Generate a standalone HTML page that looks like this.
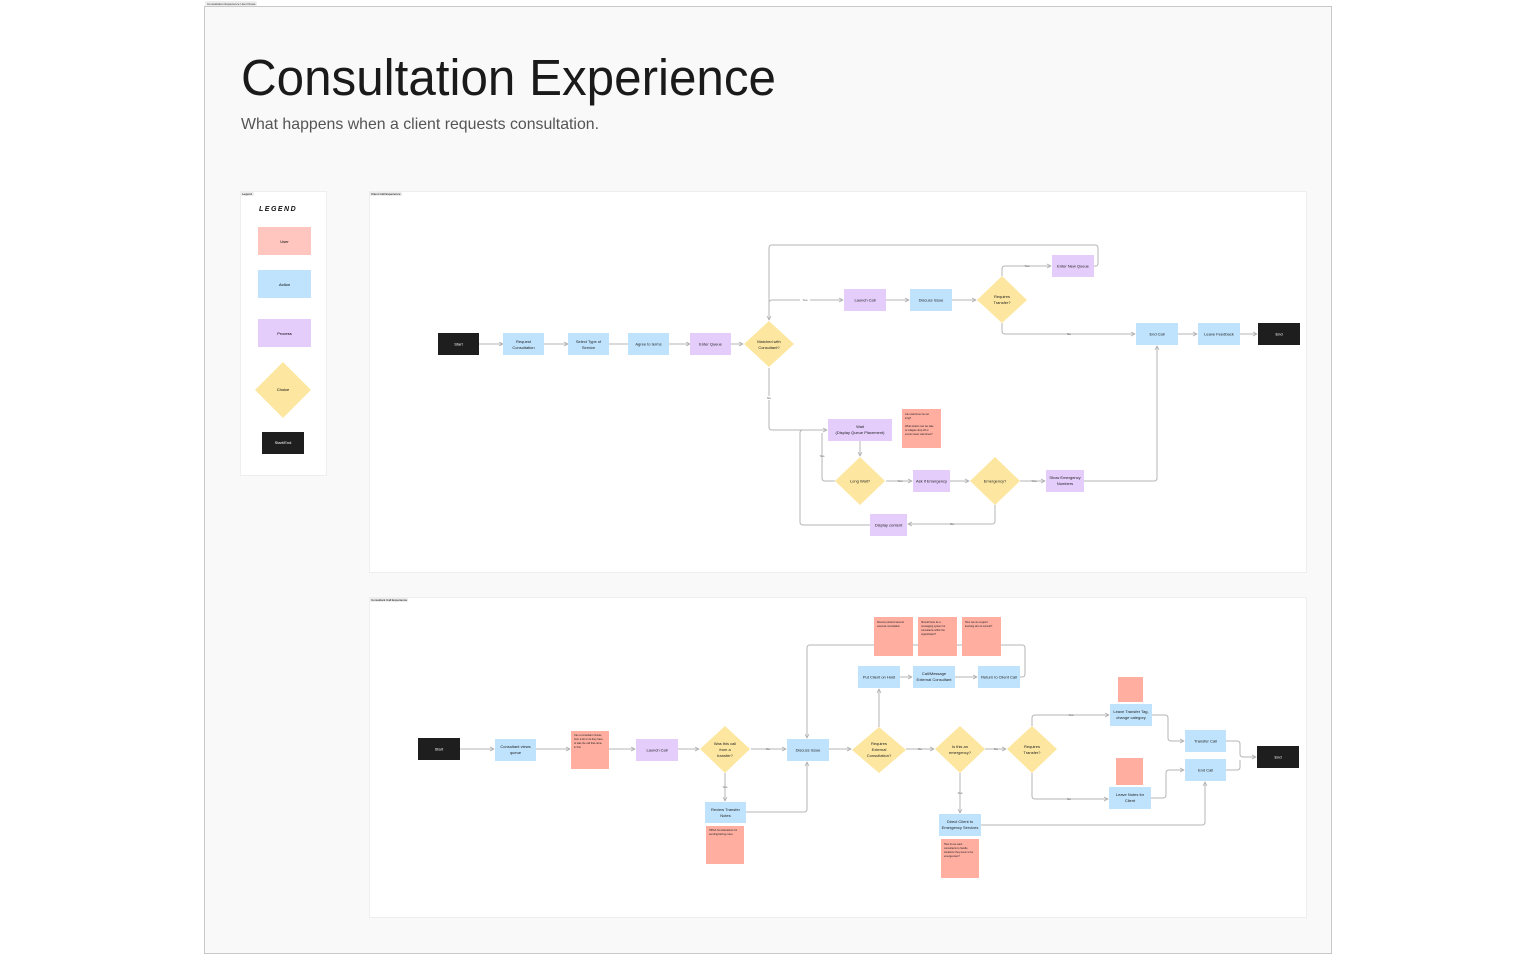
<!DOCTYPE html>
<html><head><meta charset="utf-8"><style>
html,body{margin:0;padding:0;background:#fff;width:1536px;height:960px;overflow:hidden}
svg{display:block;font-family:"Liberation Sans",sans-serif}
</style></head><body>
<svg width="1536" height="960" viewBox="0 0 1536 960" xmlns="http://www.w3.org/2000/svg">
<defs>
<marker id="a" viewBox="0 0 10 10" refX="9" refY="5" markerWidth="5" markerHeight="5" orient="auto-start-reverse"><path d="M1 1 L9 5 L1 9" fill="none" stroke="#aaa" stroke-width="1.5"/></marker>
</defs>
<rect x="204.5" y="6.5" width="1127" height="947" fill="#f9f9f9" stroke="#c8c8c8"/>
<rect x="205" y="1" width="52" height="5" rx="1" fill="#eee"/>
<text x="207" y="5" font-size="3" fill="#333">Consultation Experience User Flows</text>
<text x="241" y="95" font-size="51" fill="#1a1a1a" textLength="535" lengthAdjust="spacingAndGlyphs">Consultation Experience</text>
<text x="241" y="129" font-size="16" fill="#555" textLength="358" lengthAdjust="spacingAndGlyphs">What happens when a client requests consultation.</text>

<rect x="240.5" y="191.5" width="86" height="284" fill="#fff" stroke="#eee"/>
<rect x="241" y="192" width="13" height="4" fill="#eee"/><text x="242" y="195" font-size="3">Legend</text>
<text x="259" y="211" font-size="7" font-style="italic" font-weight="bold" letter-spacing="1.5" fill="#111">LEGEND</text>
<rect x="258" y="227" width="53" height="28" fill="#ffc6c0"/><text x="284.5" y="243" font-size="4" text-anchor="middle">User</text>
<rect x="258" y="270" width="53" height="28" fill="#bfe3fd"/><text x="284.5" y="286" font-size="4" text-anchor="middle">Action</text>
<rect x="258" y="319" width="53" height="28" fill="#e4ccfb"/><text x="284.5" y="335" font-size="4" text-anchor="middle">Process</text>
<polygon points="283,362 311,390 283,418 255,390" fill="#fde7a0"/><text x="283" y="391" font-size="4" text-anchor="middle">Choice</text>
<rect x="262" y="432" width="42" height="22" fill="#1e1e1e"/><text x="283" y="444" font-size="4" fill="#fff" text-anchor="middle">Start/End</text>

<rect x="369.5" y="191.5" width="937" height="381" fill="#fff" stroke="#eee"/>
<rect x="370" y="192" width="32" height="4" fill="#eee"/><text x="371" y="195" font-size="3">Client Call Experience</text>

<g fill="none" stroke="#b5b5b5" stroke-width="1">
<path d="M479 344H503" marker-end="url(#a)"/>
<path d="M544 344H568" marker-end="url(#a)"/>
<path d="M609 344H628"/>
<path d="M669 344H690" marker-end="url(#a)"/>
<path d="M731 344H743" marker-end="url(#a)"/>
<path d="M1094 266H1096Q1098 266 1098 263V248Q1098 245 1095 245H772Q769 245 769 248V320" marker-end="url(#a)"/>
<path d="M769 303Q769 300 772 300H843" marker-end="url(#a)"/>
<path d="M886 300H909" marker-end="url(#a)"/>
<path d="M952 300H976" marker-end="url(#a)"/>
<path d="M1002 276V269Q1002 266 1005 266H1051" marker-end="url(#a)"/>
<path d="M1002 323V331Q1002 334 1005 334H1135" marker-end="url(#a)"/>
<path d="M1178 334H1197" marker-end="url(#a)"/>
<path d="M1240 334H1257" marker-end="url(#a)"/>
<path d="M769 368V427Q769 430 772 430H827" marker-end="url(#a)"/>
<path d="M835 481H825Q822 481 822 478V433"/>
<path d="M870 525H803Q800 525 800 522V433Q800 430 803 430"/>
<path d="M860 441V456" marker-end="url(#a)"/>
<path d="M886 481H912" marker-end="url(#a)"/>
<path d="M950 481H969" marker-end="url(#a)"/>
<path d="M1020 481H1045" marker-end="url(#a)"/>
<path d="M1084 481H1154Q1157 481 1157 478V346" marker-end="url(#a)"/>
<path d="M995 505V521Q995 524 992 524H908" marker-end="url(#a)"/>
</g>
<g font-size="3" fill="#555" text-anchor="middle">
<rect x="800" y="298" width="10" height="4" fill="#fff"/><text x="805" y="301">Yes</text>
<rect x="764" y="396" width="10" height="4" fill="#fff"/><text x="769" y="399">No</text>
<text x="1027" y="267">Yes</text><text x="1069" y="335">No</text>
<text x="822" y="457">Yes</text><text x="900" y="482">Yes</text><text x="1034" y="482">Yes</text><text x="952" y="525">No</text>
</g>
<g font-size="4" text-anchor="middle" fill="#222">
<rect x="438" y="333" width="41" height="22" fill="#1e1e1e"/><text x="458.5" y="345.5" fill="#fff">Start</text>
<rect x="503" y="333" width="41" height="22" fill="#bfe3fd"/><text x="523.5" y="343">Request</text><text x="523.5" y="349">Consultation</text>
<rect x="568" y="333" width="41" height="22" fill="#bfe3fd"/><text x="588.5" y="343">Select Type of</text><text x="588.5" y="349">Service</text>
<rect x="628" y="333" width="41" height="22" fill="#bfe3fd"/><text x="648.5" y="345.5">Agree to terms</text>
<rect x="690" y="333" width="41" height="22" fill="#e4ccfb"/><text x="710.5" y="345.5">Enter Queue</text>
<polygon points="769,321 794,344 769,367 744,344" fill="#fde7a0"/><text x="769" y="343">Matched with</text><text x="769" y="349">Consultant?</text>
<rect x="844" y="289" width="42" height="22" fill="#e4ccfb"/><text x="865" y="301.5">Launch Call</text>
<rect x="910" y="289" width="42" height="22" fill="#bfe3fd"/><text x="931" y="301.5">Discuss Issue</text>
<polygon points="1002,276 1027,300 1002,323 977,300" fill="#fde7a0"/><text x="1002" y="298">Requires</text><text x="1002" y="304">Transfer?</text>
<rect x="1052" y="255" width="42" height="22" fill="#e4ccfb"/><text x="1073" y="267.5">Enter New Queue</text>
<rect x="1136" y="323" width="42" height="22" fill="#bfe3fd"/><text x="1157" y="335.5">End Call</text>
<rect x="1198" y="323" width="42" height="22" fill="#bfe3fd"/><text x="1219" y="335.5">Leave Feedback</text>
<rect x="1258" y="323" width="42" height="22" fill="#1e1e1e"/><text x="1279" y="335.5" fill="#fff">End</text>
<rect x="828" y="419" width="64" height="22" fill="#e4ccfb"/><text x="860" y="428">Wait</text><text x="860" y="434">(Display Queue Placement)</text>
<rect x="902" y="409" width="39" height="39" fill="#ffaea0"/>
<text x="905" y="415" font-size="2.5" text-anchor="start">Can wait times be too</text><text x="905" y="419" font-size="2.5" text-anchor="start">long?</text>
<text x="905" y="427" font-size="2.5" text-anchor="start">What actions can we take</text><text x="905" y="431" font-size="2.5" text-anchor="start">to mitigate drop off or</text><text x="905" y="435" font-size="2.5" text-anchor="start">ensure lower wait times?</text>
<polygon points="860,457 885,481 860,505 835,481" fill="#fde7a0"/><text x="860" y="482.5">Long Wait?</text>
<rect x="913" y="470" width="37" height="22" fill="#e4ccfb"/><text x="931.5" y="482.5">Ask if Emergency</text>
<polygon points="995,457 1020,481 995,505 970,481" fill="#fde7a0"/><text x="995" y="482.5">Emergency?</text>
<rect x="1046" y="470" width="38" height="22" fill="#e4ccfb"/><text x="1065" y="479">Show Emergency</text><text x="1065" y="485">Numbers</text>
<rect x="870" y="514" width="37" height="22" fill="#e4ccfb"/><text x="888.5" y="526.5">Display content</text>
</g>

<rect x="369.5" y="597.5" width="937" height="320" fill="#fff" stroke="#eee"/>
<rect x="370" y="598" width="38" height="4" fill="#eee"/><text x="371" y="601" font-size="3">Consultant Call Experience</text>

<g fill="none" stroke="#b5b5b5" stroke-width="1">
<path d="M460 749H494" marker-end="url(#a)"/>
<path d="M536 749H570" marker-end="url(#a)"/>
<path d="M609 749H635" marker-end="url(#a)"/>
<path d="M678 749H699" marker-end="url(#a)"/>
<path d="M751 749H786" marker-end="url(#a)"/>
<path d="M725 773V801" marker-end="url(#a)"/>
<path d="M746 812H804Q807 812 807 809V762" marker-end="url(#a)"/>
<path d="M1020 677H1022Q1025 677 1025 674V648Q1025 645 1022 645H810Q807 645 807 648V738" marker-end="url(#a)"/>
<path d="M829 749H851" marker-end="url(#a)"/>
<path d="M879 727V689" marker-end="url(#a)"/>
<path d="M900 677H912" marker-end="url(#a)"/>
<path d="M955 677H977" marker-end="url(#a)"/>
<path d="M906 749H934" marker-end="url(#a)"/>
<path d="M985 749H1006" marker-end="url(#a)"/>
<path d="M960 773V813" marker-end="url(#a)"/>
<path d="M981 825H1202Q1205 825 1205 822V782" marker-end="url(#a)"/>
<path d="M1032 726V718Q1032 715 1035 715H1109" marker-end="url(#a)"/>
<path d="M1032 773V796Q1032 799 1035 799H1108" marker-end="url(#a)"/>
<path d="M1152 715H1165Q1168 715 1168 718V738Q1168 741 1171 741H1184" marker-end="url(#a)"/>
<path d="M1151 798H1163Q1166 798 1166 795V773Q1166 770 1169 770H1184" marker-end="url(#a)"/>
<path d="M1226 741H1237Q1240 741 1240 744V754Q1240 757 1243 757H1256" marker-end="url(#a)"/>
<path d="M1226 770H1237Q1240 770 1240 767V760"/>
</g>
<g font-size="3" fill="#555" text-anchor="middle">
<text x="768" y="750">No</text><text x="725" y="788">Yes</text><text x="920" y="750">No</text><text x="996" y="750">No</text>
<text x="960" y="794">Yes</text><text x="1071" y="716">Yes</text><text x="1069" y="800">No</text>
</g>
<g font-size="4" text-anchor="middle" fill="#222">
<rect x="418" y="738" width="42" height="22" fill="#1e1e1e"/><text x="439" y="750.5" fill="#fff">Start</text>
<rect x="495" y="739" width="41" height="22" fill="#bfe3fd"/><text x="515.5" y="748">Consultant views</text><text x="515.5" y="754">queue</text>
<rect x="571" y="731" width="38" height="38" fill="#ffaea0"/>
<text x="574" y="736" font-size="2.5" text-anchor="start">Can a consultant choose</text><text x="574" y="740" font-size="2.5" text-anchor="start">from a list or do they have</text><text x="574" y="744" font-size="2.5" text-anchor="start">to take the call that came</text><text x="574" y="748" font-size="2.5" text-anchor="start">in first</text>
<rect x="636" y="739" width="42" height="22" fill="#e4ccfb"/><text x="657" y="751.5">Launch Call</text>
<polygon points="725,726 750,749 725,773 700,749" fill="#fde7a0"/><text x="725" y="745">Was this call</text><text x="725" y="751">from a</text><text x="725" y="757">transfer?</text>
<rect x="787" y="739" width="42" height="22" fill="#bfe3fd"/><text x="808" y="751.5">Discuss Issue</text>
<rect x="705" y="802" width="41" height="21" fill="#bfe3fd"/><text x="725.5" y="811">Review Transfer</text><text x="725.5" y="817">Notes</text>
<rect x="706" y="826" width="38" height="38" fill="#ffaea0"/>
<text x="709" y="831" font-size="2.5" text-anchor="start">HIPAA Considerations for</text><text x="709" y="835" font-size="2.5" text-anchor="start">sending/storing notes</text>
<polygon points="879,727 906,750 879,773 852,750" fill="#fde7a0"/><text x="879" y="745">Requires</text><text x="879" y="751">External</text><text x="879" y="757">Consultation?</text>
<rect x="858" y="666" width="42" height="22" fill="#bfe3fd"/><text x="879" y="678.5">Put Client on Hold</text>
<rect x="913" y="666" width="42" height="22" fill="#bfe3fd"/><text x="934" y="675">Call/Message</text><text x="934" y="681">External Consultant</text>
<rect x="978" y="666" width="42" height="22" fill="#bfe3fd"/><text x="999" y="678.5">Return to Client Call</text>
<rect x="874" y="617" width="39" height="39" fill="#ffaea0"/><text x="877" y="623" font-size="2.5" text-anchor="start">Discuss protocol around</text><text x="877" y="627" font-size="2.5" text-anchor="start">external consultation</text>
<rect x="918" y="617" width="39" height="39" fill="#ffaea0"/><text x="921" y="623" font-size="2.5" text-anchor="start">Should there be a</text><text x="921" y="627" font-size="2.5" text-anchor="start">messaging system for</text><text x="921" y="631" font-size="2.5" text-anchor="start">consultants within the</text><text x="921" y="635" font-size="2.5" text-anchor="start">organization?</text>
<rect x="962" y="617" width="39" height="39" fill="#ffaea0"/><text x="965" y="623" font-size="2.5" text-anchor="start">How can we support</text><text x="965" y="627" font-size="2.5" text-anchor="start">knowing who to consult?</text>
<polygon points="960,726 985,749 960,773 935,749" fill="#fde7a0"/><text x="960" y="748">Is this an</text><text x="960" y="754">emergency?</text>
<rect x="939" y="814" width="42" height="22" fill="#bfe3fd"/><text x="960" y="823">Direct Client to</text><text x="960" y="829">Emergency Services</text>
<rect x="941" y="839" width="38" height="39" fill="#ffaea0"/><text x="944" y="845" font-size="2.5" text-anchor="start">How do we want</text><text x="944" y="849" font-size="2.5" text-anchor="start">consultants to handle</text><text x="944" y="853" font-size="2.5" text-anchor="start">situations they deem to be</text><text x="944" y="857" font-size="2.5" text-anchor="start">emergencies?</text>
<polygon points="1032,726 1057,749 1032,773 1007,749" fill="#fde7a0"/><text x="1032" y="748">Requires</text><text x="1032" y="754">Transfer?</text>
<rect x="1110" y="704" width="42" height="22" fill="#bfe3fd"/><text x="1131" y="713">Leave Transfer Tag,</text><text x="1131" y="719">change category</text>
<rect x="1118" y="677" width="25" height="25" fill="#ffaea0"/>
<rect x="1109" y="787" width="42" height="22" fill="#bfe3fd"/><text x="1130" y="796">Leave Notes for</text><text x="1130" y="802">Client</text>
<rect x="1116" y="758" width="27" height="27" fill="#ffaea0"/>
<rect x="1185" y="730" width="41" height="22" fill="#bfe3fd"/><text x="1205.5" y="742.5">Transfer Call</text>
<rect x="1185" y="759" width="41" height="22" fill="#bfe3fd"/><text x="1205.5" y="771.5">End Call</text>
<rect x="1257" y="746" width="42" height="22" fill="#1e1e1e"/><text x="1278" y="758.5" fill="#fff">End</text>
</g>
</svg>
</body></html>
